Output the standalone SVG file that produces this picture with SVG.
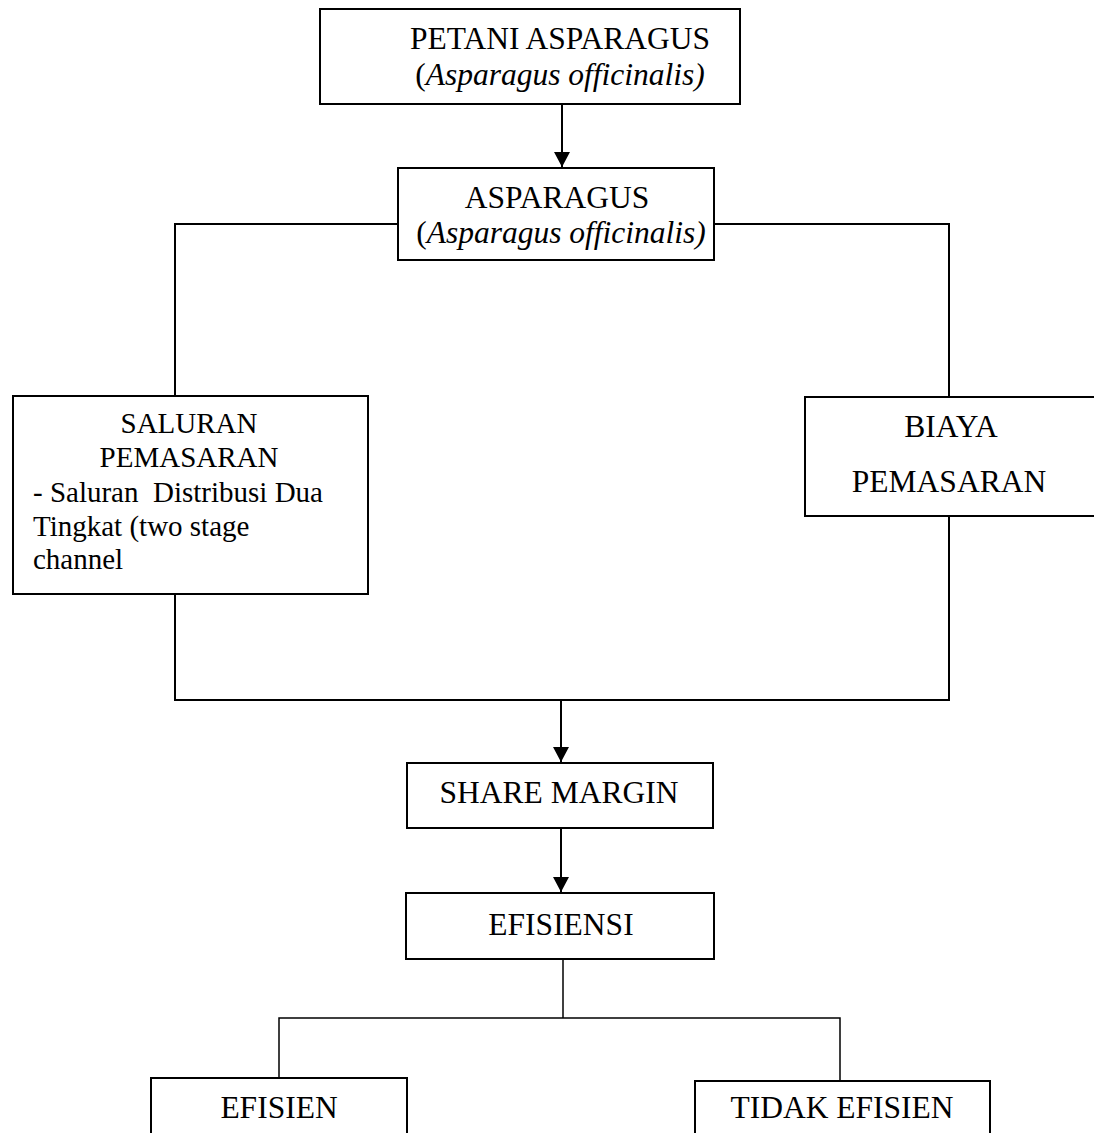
<svg xmlns="http://www.w3.org/2000/svg" width="1094" height="1133" viewBox="0 0 1094 1133">
<style>
.box{fill:#fff;stroke:#000;stroke-width:2}
.ln{fill:none;stroke:#000;stroke-width:2}
.thin{fill:none;stroke:#000;stroke-width:1.5}
text{font-family:"Liberation Serif","Times New Roman",serif;font-size:31.5px;fill:#000}
.c{text-anchor:middle}
.s{font-size:29px}
.i{font-style:italic}
</style>
<defs>
<marker id="ah" markerUnits="userSpaceOnUse" markerWidth="16" markerHeight="16" refX="15" refY="8" orient="auto">
<path d="M0,0 L15,8 L0,16 Z" fill="#000"/>
</marker>
</defs>
<g id="connectors">
<line class="ln" x1="562" y1="104" x2="562" y2="167" marker-end="url(#ah)"/>
<polyline class="ln" points="398,224 175,224 175,396"/>
<polyline class="ln" points="714,224 949,224 949,397"/>
<polyline class="ln" points="175,594 175,700 949,700 949,516"/>
<line class="ln" x1="561" y1="700" x2="561" y2="762" marker-end="url(#ah)"/>
<line class="ln" x1="561" y1="828" x2="561" y2="892" marker-end="url(#ah)"/>
<line class="thin" x1="563" y1="959" x2="563" y2="1018"/>
<polyline class="thin" points="279,1078 279,1018 840,1018 840,1081"/>
</g>
<g id="petani">
<rect class="box" x="320" y="9" width="420" height="95"/>
<text class="c" x="560" y="49">PETANI ASPARAGUS</text>
<text class="c" x="560" y="85">(<tspan class="i">Asparagus officinalis)</tspan></text>
</g>
<g id="asparagus">
<rect class="box" x="398" y="168" width="316" height="92"/>
<text class="c" x="557" y="208">ASPARAGUS</text>
<text class="c" x="561" y="243">(<tspan class="i">Asparagus officinalis)</tspan></text>
</g>
<g id="saluran">
<rect class="box" x="13" y="396" width="355" height="198"/>
<text class="c s" x="189" y="433">SALURAN</text>
<text class="c s" x="189" y="467">PEMASARAN</text>
<text class="s" x="33" y="502" xml:space="preserve">- Saluran  Distribusi Dua</text>
<text class="s" x="33" y="536">Tingkat (two stage</text>
<text class="s" x="33" y="569">channel</text>
</g>
<g id="biaya">
<rect class="box" x="805" y="397" width="300" height="119"/>
<text class="c" x="951" y="437">BIAYA</text>
<text class="c" x="949" y="492">PEMASARAN</text>
</g>
<g id="share">
<rect class="box" x="407" y="763" width="306" height="65"/>
<text class="c" x="559" y="803">SHARE MARGIN</text>
</g>
<g id="efisiensi">
<rect class="box" x="406" y="893" width="308" height="66"/>
<text class="c" x="561" y="935">EFISIENSI</text>
</g>
<g id="efisien">
<rect class="box" x="151" y="1078" width="256" height="70"/>
<text class="c" x="279" y="1118">EFISIEN</text>
</g>
<g id="tidak">
<rect class="box" x="695" y="1081" width="295" height="70"/>
<text class="c" x="842" y="1118">TIDAK EFISIEN</text>
</g>
</svg>
